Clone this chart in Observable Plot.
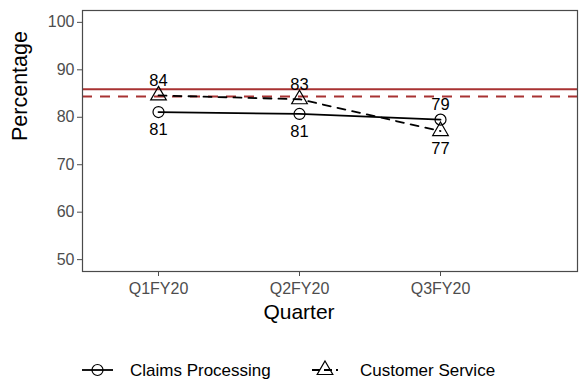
<!DOCTYPE html>
<html>
<head>
<meta charset="utf-8">
<script src="https://cdn.jsdelivr.net/npm/d3@7"></script>
<script src="https://cdn.jsdelivr.net/npm/@observablehq/plot@0.6"></script>
<style>
  body { margin: 0; background: #fff; font-family: "Liberation Sans", Arial, sans-serif; }
  #chart svg { display: block; }
</style>
</head>
<body>
<div id="chart"></div>
<script>
const quarters = ["Q1FY20", "Q2FY20", "Q3FY20"];
const claimsValues = [81.1, 80.7, 79.5];
const claimsLabels = ["81", "81", "79"];
const serviceValues = [84.6, 83.8, 77.1];
const serviceLabels = ["84", "83", "77"];
const targetSolid = 85.9;
const targetDashed = 84.4;
const yTicks = [50, 60, 70, 80, 90, 100];
const seriesNames = ["Claims Processing", "Customer Service"];

const claims = quarters.map((q, i) => ({q, v: claimsValues[i], label: claimsLabels[i]}));
const service = quarters.map((q, i) => ({q, v: serviceValues[i], label: serviceLabels[i]}));
const claimsAbove = claims.filter((d, i) => claimsValues[i] > serviceValues[i]);
const claimsBelow = claims.filter((d, i) => claimsValues[i] <= serviceValues[i]);
const serviceAbove = service.filter((d, i) => serviceValues[i] >= claimsValues[i]);
const serviceBelow = service.filter((d, i) => serviceValues[i] < claimsValues[i]);

const red = "#a83232";
const font = "Liberation Sans, Arial, sans-serif";

const plot = Plot.plot({
  width: 581,
  height: 330,
  marginLeft: 82,
  marginRight: 4,
  marginTop: 10,
  marginBottom: 59,
  style: {fontFamily: font, background: "#fff"},
  x: {type: "point", domain: quarters, padding: 0, insetLeft: 76, insetRight: 137, axis: null},
  y: {domain: [47.5, 102.5], axis: null},
  marks: [
    Plot.ruleY([targetSolid], {stroke: red, strokeWidth: 2}),
    Plot.ruleY([targetDashed], {stroke: red, strokeWidth: 2, strokeDasharray: "10,8"}),
    Plot.line(claims, {x: "q", y: "v", stroke: "black", strokeWidth: 1.8}),
    Plot.line(service, {x: "q", y: "v", stroke: "black", strokeWidth: 1.8, strokeDasharray: "8,7"}),
    Plot.dot(claims, {x: "q", y: "v", r: 5.5, stroke: "black", strokeWidth: 1.2, fill: "none"}),
    Plot.dot(service, {x: "q", y: "v", r: 5.8, symbol: "triangle", stroke: "black", strokeWidth: 1.2, fill: "none"}),
    Plot.text(claimsAbove, {x: "q", y: "v", text: "label", dy: -15, fontSize: 16.5, fill: "black"}),
    Plot.text(claimsBelow, {x: "q", y: "v", text: "label", dy: 18, fontSize: 16.5, fill: "black"}),
    Plot.text(serviceAbove, {x: "q", y: "v", text: "label", dy: -15, fontSize: 16.5, fill: "black"}),
    Plot.text(serviceBelow, {x: "q", y: "v", text: "label", dy: 18, fontSize: 16.5, fill: "black"}),
    Plot.frame({stroke: "#4a4a4a", strokeWidth: 1.2}),
    Plot.axisY(yTicks, {tickSize: 5, tickPadding: 3, fontSize: 16, color: "#4d4d4d", stroke: "#4d4d4d", label: null}),
    Plot.axisX(quarters, {tickSize: 5, tickPadding: 6, fontSize: 16, color: "#4d4d4d", stroke: "#4d4d4d", label: null}),
    Plot.text(["Percentage"], {frameAnchor: "left", dx: -62, rotate: -90, fontSize: 21.5, fill: "black"}),
    Plot.text(["Quarter"], {frameAnchor: "bottom", dx: -31, dy: 47, fontSize: 21, fill: "black"})
  ]
});
document.getElementById("chart").appendChild(plot);

// legend below the plot
const leg = d3.create("svg").attr("width", 581).attr("height", 51).style("display", "block");
const cy = 40;
const g1 = leg.append("g");
g1.append("line").attr("x1", 82).attr("x2", 113).attr("y1", cy).attr("y2", cy).attr("stroke", "black").attr("stroke-width", 1.8);
g1.append("circle").attr("cx", 97.5).attr("cy", cy).attr("r", 5.5).attr("fill", "none").attr("stroke", "black").attr("stroke-width", 1.2);
g1.append("text").attr("x", 130).attr("y", cy).attr("dy", "0.35em").attr("font-size", 17).attr("font-family", font).text(seriesNames[0]);
const g2 = leg.append("g");
g2.append("line").attr("x1", 312).attr("x2", 338).attr("y1", cy).attr("y2", cy).attr("stroke", "black").attr("stroke-width", 1.8).attr("stroke-dasharray", "8,4");
g2.append("path").attr("d", d3.symbol(d3.symbolTriangle, 5.8 * 5.8 * Math.PI)()).attr("transform", `translate(325,${cy})`).attr("fill", "none").attr("stroke", "black").attr("stroke-width", 1.2);
g2.append("text").attr("x", 360).attr("y", cy).attr("dy", "0.35em").attr("font-size", 17).attr("font-family", font).text(seriesNames[1]);
document.getElementById("chart").appendChild(leg.node());
</script>
</body>
</html>
